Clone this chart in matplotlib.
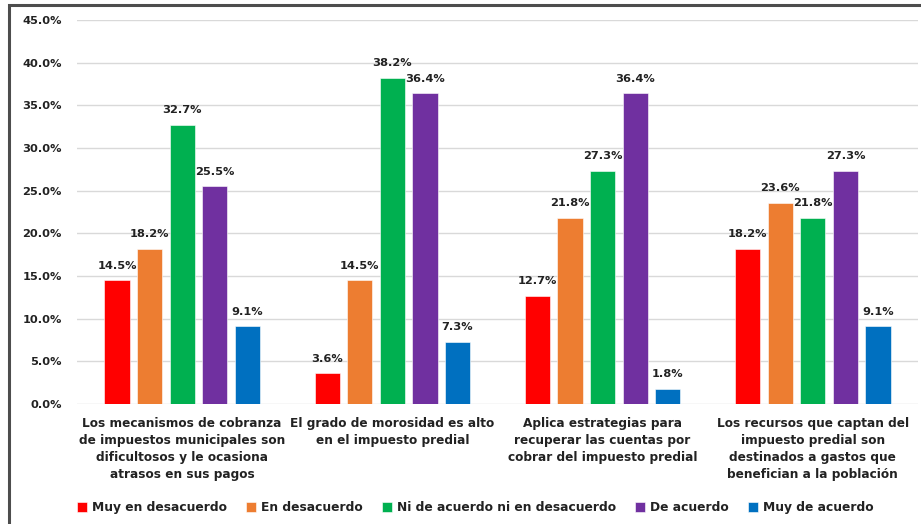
import matplotlib
matplotlib.use("Agg")
import matplotlib.pyplot as plt
from matplotlib.patches import Rectangle
from matplotlib.ticker import FuncFormatter
import numpy as np

categories = [
    "Los mecanismos de cobranza\nde impuestos municipales son\ndificultosos y le ocasiona\natrasos en sus pagos",
    "El grado de morosidad es alto\nen el impuesto predial",
    "Aplica estrategias para\nrecuperar las cuentas por\ncobrar del impuesto predial",
    "Los recursos que captan del\nimpuesto predial son\ndestinados a gastos que\nbenefician a la población",
]
series_names = ["Muy en desacuerdo", "En desacuerdo", "Ni de acuerdo ni en desacuerdo",
                "De acuerdo", "Muy de acuerdo"]
muy_desacuerdo = [14.5, 3.6, 12.7, 18.2]
en_desacuerdo = [18.2, 14.5, 21.8, 23.6]
ni_ni = [32.7, 38.2, 27.3, 21.8]
de_acuerdo = [25.5, 36.4, 36.4, 27.3]
muy_acuerdo = [9.1, 7.3, 1.8, 9.1]
yticks = [0, 5, 10, 15, 20, 25, 30, 35, 40, 45]

series = [muy_desacuerdo, en_desacuerdo, ni_ni, de_acuerdo, muy_acuerdo]
colors = ["#FF0000", "#ED7D31", "#00B050", "#7030A0", "#0070C0"]
txt = "#222222"

fig = plt.figure(figsize=(9.21, 5.24), dpi=100)
ax = fig.add_axes([0.0836, 0.229, 0.9131, 0.7328])

x = np.arange(len(categories))
step = 0.155
width = 0.12
for i, (vals, c, name) in enumerate(zip(series, colors, series_names)):
    pos = x + (i - 2) * step
    bars = ax.bar(pos, vals, width, color=c, label=name, edgecolor="white", linewidth=0.4, zorder=3)
    for b, v in zip(bars, vals):
        ax.annotate(f"{v:.1f}%", (b.get_x() + b.get_width() / 2, v), xytext=(0, 7),
                    textcoords="offset points", ha="center", va="bottom",
                    fontsize=8.2, fontweight="bold", color=txt)

ax.set_xlim(-0.5, 3.5)
ax.set_ylim(0, 45)
ax.set_yticks(yticks)
ax.yaxis.set_major_formatter(FuncFormatter(lambda v, p: f"{v:.1f}%"))
ax.set_xticks(x)
ax.set_xticklabels(categories, fontsize=8.7, fontweight="bold", color=txt, linespacing=1.4)
for lab in ax.get_yticklabels():
    lab.set_fontweight("bold")
    lab.set_fontsize(8.2)
    lab.set_color(txt)
ax.tick_params(axis="both", length=0)
ax.tick_params(axis="y", pad=11)
ax.tick_params(axis="x", pad=9)
ax.grid(axis="y", color="#D9D9D9", linewidth=1, zorder=0)
for s in ax.spines.values():
    s.set_visible(False)

leg = fig.legend(loc="center", bbox_to_anchor=(0.516, 0.031), ncol=5, frameon=False,
                 prop={"weight": "bold", "size": 8.8}, handlelength=0.85, handleheight=0.85,
                 handletextpad=0.4, columnspacing=1.55)
for t in leg.get_texts():
    t.set_color(txt)

fig.patches.append(Rectangle((0.0098, -0.02), 1.02, 1.0105, transform=fig.transFigure,
                             fill=False, edgecolor="#4D4D4D", linewidth=2.2))

fig.savefig("out.png", dpi=100)
